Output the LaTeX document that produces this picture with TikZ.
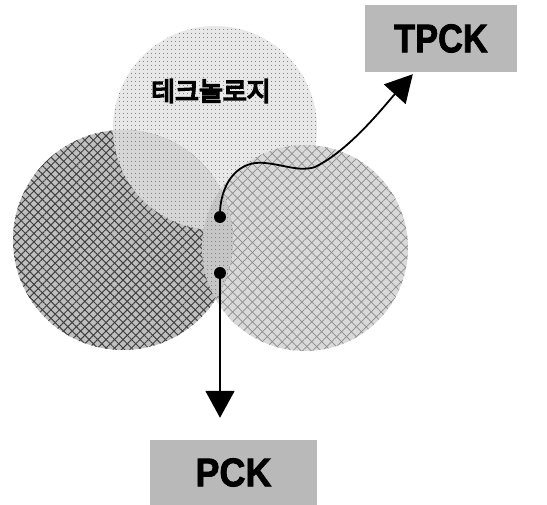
\documentclass[tikz,border=0pt]{standalone}
\usepackage{fontspec}
\setmainfont{Liberation Sans}
\newfontfamily\kr{Noto Sans CJK KR}[FakeBold=6]
\newfontfamily\heavy{Liberation Sans Bold}[FakeBold=2]
\usetikzlibrary{arrows.meta,patterns.meta}
\tikzset{
  lbl/.style={draw=none,fill=gray!55,inner sep=0pt,font=\fontsize{40}{40}\selectfont\heavy},
  dot/.style={circle,fill=black,inner sep=0pt,minimum size=12pt},
  conn/.style={line width=1.8pt,-{Triangle[length=27pt,width=29pt]}},
  hatchA/.style={pattern={Lines[angle=45,distance=6pt,line width=1pt]},pattern color=black!75},
  hatchB/.style={pattern={Lines[angle=-45,distance=6pt,line width=1pt]},pattern color=black!75},
  hatchC/.style={pattern={Lines[angle=45,distance=7pt,line width=0.7pt]},pattern color=black!45},
  hatchD/.style={pattern={Lines[angle=-45,distance=7pt,line width=0.7pt]},pattern color=black!45},
  dots/.style={pattern={Dots[distance=4pt,radius=0.6pt]},pattern color=black!60}
}
\begin{document}
\begin{tikzpicture}[x=1pt,y=-1pt]
\useasboundingbox (0,0) rectangle (547,505);
\fill[white] (0,0) rectangle (547,505);
% circles
\def\topc{(215,128) circle[radius=102]}
\def\leftc{(123,240) circle[radius=110]}
\def\rightc{(305,248) circle[radius=103]}
\fill[gray!18] \topc;
\path[dots] \topc;
\fill[gray!30] \rightc;
\path[hatchC] \rightc;
\path[hatchD] \rightc;
\fill[gray!50] \leftc;
\path[hatchA] \leftc;
\path[hatchB] \leftc;
\begin{scope}
  \clip \leftc;
  \fill[gray!32] \topc;
  \path[dots] \topc;
\end{scope}
\begin{scope}
  \clip \leftc;
  \fill[gray!45] \rightc;
  \path[dots] \rightc;
\end{scope}
% label
\node (tech) at (211,91) {\kr\fontsize{26}{26}\selectfont 테크놀로지};
% boxes
\node[lbl,minimum width=152pt,minimum height=67pt] (tpck) at (441,38.5) {\scalebox{0.86}[1]{TPCK}};
\node[lbl,minimum width=167pt,minimum height=65pt] (pck) at (233.5,472.5) {\scalebox{0.9}[1]{PCK}};
% dots
\node[dot] (d1) at (220,217) {};
\node[dot] (d2) at (220,273) {};
\coordinate (tpcktip) at ([xshift=48pt,yshift=-2pt]tpck.south west);
\coordinate (pcktip) at ([yshift=22pt]pck.north -| d2);
\draw[conn] (d1.north) .. controls (222,180) and (240,160) .. (265,163)
  .. controls (285,165) and (300,172) .. (315,167)
  .. controls (350,150) and (385,105) .. (tpcktip);
\draw[conn] (d2.south) -- (pcktip);
\end{tikzpicture}
\end{document}
